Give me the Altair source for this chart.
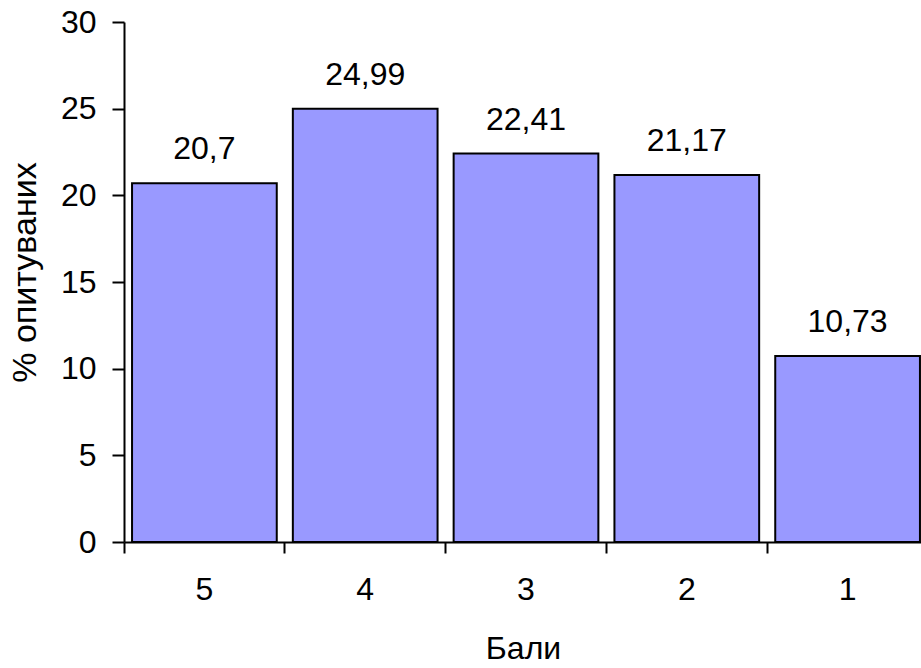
import altair as alt
import pandas as pd

categories = ["5", "4", "3", "2", "1"]
values = [20.7, 24.99, 22.41, 21.17, 10.73]
value_labels = ["20,7", "24,99", "22,41", "21,17", "10,73"]
y_ticks = [0, 5, 10, 15, 20, 25, 30]

df = pd.DataFrame({"bal": categories, "pct": values, "label": value_labels})

FONT = "Liberation Sans"
FS = 32

x_enc = alt.X(
    "bal:N",
    sort=categories,
    title="Бали",
    scale=alt.Scale(paddingInner=0, paddingOuter=0, range=[0, 804]),
    axis=alt.Axis(
        bandPosition=0,
        labelAngle=0,
        tickSize=11,
        labelPadding=21,
        titleX=399,
        titleY=106,
        titleBaseline="middle",
        titleAlign="center",
    ),
)
y_enc = alt.Y(
    "pct:Q",
    scale=alt.Scale(domain=[0, 30], nice=False),
    axis=alt.Axis(
        values=y_ticks,
        tickSize=12,
        labelPadding=16,
        title="% опитуваних",
        titleAngle=270,
        titleX=-99,
        titleY=250,
        titleFontSize=34,
        titleBaseline="middle",
        titleAlign="center",
    ),
)

base = alt.Chart(df).encode(x=x_enc, y=y_enc)

bars = base.mark_bar(
    width=alt.RelativeBandSize(0.9),
    fill="#9999FF",
    stroke="black",
    strokeWidth=2,
)
texts = base.mark_text(
    fontSize=FS, dy=-24, baseline="alphabetic", font=FONT, color="black"
).encode(text="label:N")

chart = (
    alt.layer(bars, texts)
    .properties(
        width=797,
        height=520,
        autosize=alt.AutoSizeParams(type="none"),
        padding={"left": 124, "top": 22, "right": 0, "bottom": 126},
        background="white",
    )
    .configure_view(stroke=None)
    .configure_axis(
        grid=False,
        domainColor="black",
        domainWidth=2,
        tickColor="black",
        tickWidth=2,
        labelFont=FONT,
        labelFontSize=FS,
        labelColor="black",
        titleFont=FONT,
        titleFontSize=FS,
        titleFontWeight="normal",
        titleColor="black",
    )
)

chart.save("out.html", embed_options={"renderer": "svg", "actions": False})
